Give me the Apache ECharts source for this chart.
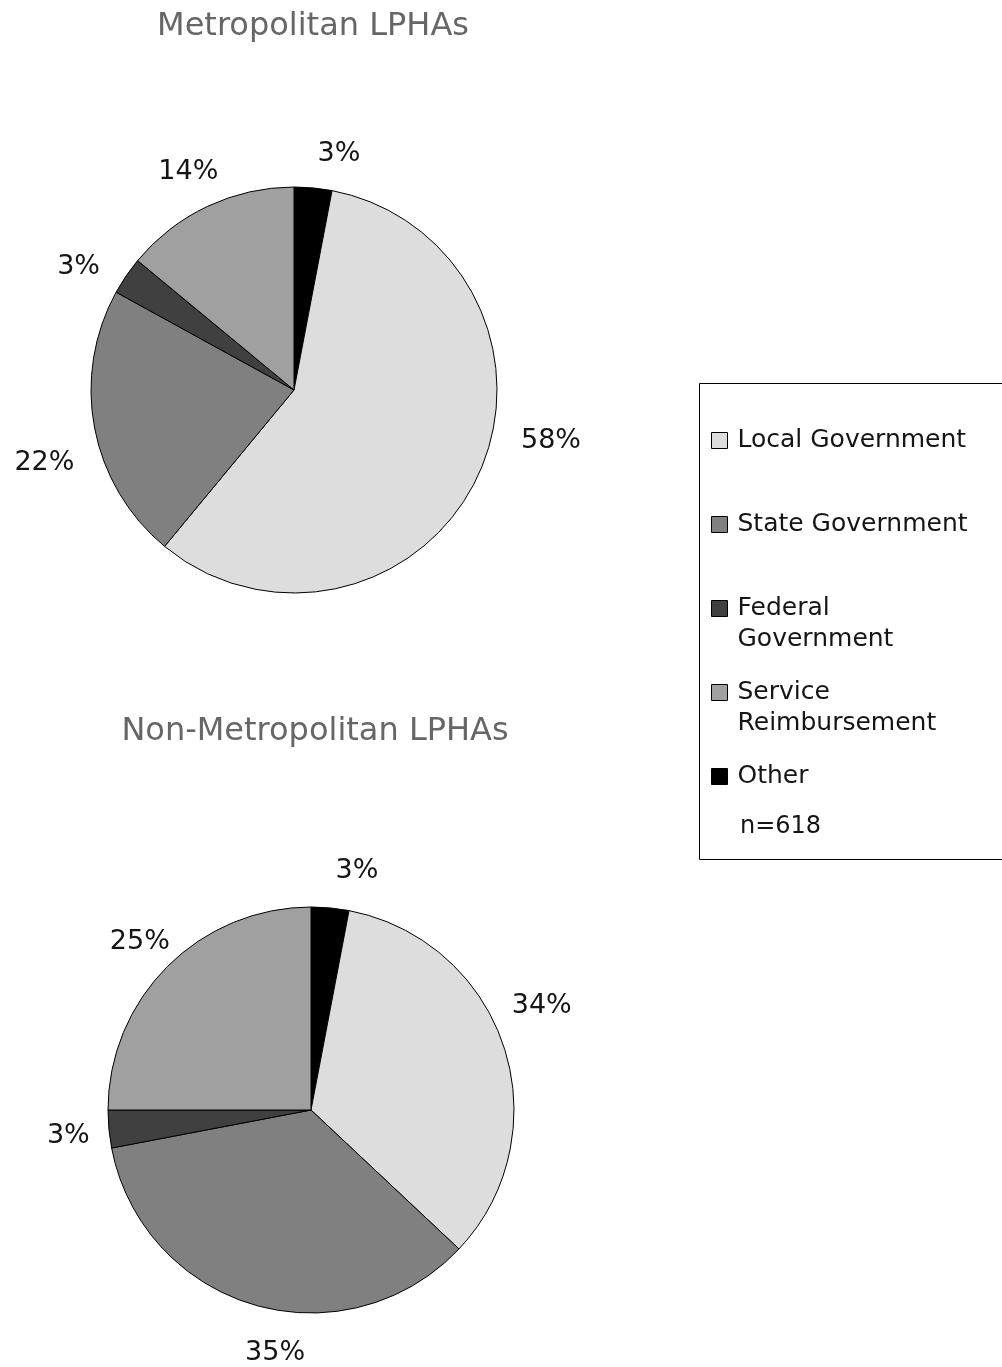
<!DOCTYPE html>
<html>
<head>
<meta charset="utf-8">
<script src="https://cdn.jsdelivr.net/npm/echarts@6/dist/echarts.min.js"></script>
<style>
  html, body { margin: 0; padding: 0; background: #fff; }
  #chart { width: 1002px; height: 1367px; }
</style>
</head>
<body>
<div id="chart"></div>
<script>
// Funding sources, in the order the slices run clockwise from 12 o'clock
const sliceNames = ['Other', 'Local Government', 'State Government', 'Federal Government', 'Service Reimbursement'];
const metroValues = [3, 58, 22, 3, 14];
const nonMetroValues = [3, 34, 35, 3, 25];

// Legend order and wrapped legend text
const legendOrder = ['Local Government', 'State Government', 'Federal Government', 'Service Reimbursement', 'Other'];
const legendText = {
  'Local Government': 'Local Government',
  'State Government': 'State Government',
  'Federal Government': 'Federal\nGovernment',
  'Service Reimbursement': 'Service\nReimbursement',
  'Other': 'Other'
};
const sampleNote = 'n=618';
const chartTitles = ['Metropolitan LPHAs', 'Non-Metropolitan LPHAs'];

const sliceColors = {
  'Other': '#000000',
  'Local Government': '#dddddd',
  'State Government': '#808080',
  'Federal Government': '#404040',
  'Service Reimbursement': '#a0a0a0'
};

const FONT = '"DejaVu Sans", sans-serif';

// Label placement around each pie: [angle clockwise from 12 o'clock, distance from centre]
const labelSpots = [
  [[10.8, 240], [101.2, 262], [253.7, 260], [299.7, 248], [334.1, 242]],
  [[10.9, 243], [65.8, 253], [188.4, 246], [264, 244], [314.5, 240]]
];
const pieCenters = [[294, 390], [311, 1110]];
const pieRadius = 203;

function toData(values) {
  return sliceNames.map((n, i) => ({
    name: n,
    value: values[i],
    itemStyle: { color: sliceColors[n] }
  }));
}

function pieSeries(values, idx) {
  const c = pieCenters[idx];
  return {
    type: 'pie',
    center: c,
    radius: pieRadius,
    startAngle: 90,
    clockwise: true,
    silent: true,
    animation: false,
    itemStyle: { borderColor: '#000', borderWidth: 1 },
    label: {
      show: true,
      position: 'outside',
      formatter: '{c}%',
      fontFamily: FONT,
      fontSize: 27,
      color: '#151515',
      overflow: 'none'
    },
    labelLine: { show: false },
    labelLayout: function (p) {
      const spot = labelSpots[idx][p.dataIndex];
      const a = spot[0] * Math.PI / 180;
      return {
        x: c[0] + spot[1] * Math.sin(a),
        y: c[1] - spot[1] * Math.cos(a),
        align: 'center',
        verticalAlign: 'middle'
      };
    },
    data: toData(values)
  };
}

const titleStyle = { fontFamily: FONT, fontSize: 32, fontWeight: 'normal', color: '#666666' };

const chart = echarts.init(document.getElementById('chart'), null, { renderer: 'canvas' });

chart.setOption({
  backgroundColor: '#ffffff',
  animation: false,
  title: [
    { text: chartTitles[0], left: 313, top: 11, textAlign: 'center', padding: 0, textStyle: titleStyle },
    { text: chartTitles[1], left: 315, top: 716, textAlign: 'center', padding: 0, textStyle: titleStyle }
  ],
  legend: {
    orient: 'vertical',
    left: 711,
    top: 394,
    padding: 0,
    itemWidth: 16,
    itemHeight: 16,
    itemGap: -9,
    icon: 'rect',
    selectedMode: false,
    data: legendOrder,
    itemStyle: { borderColor: '#000', borderWidth: 1 },
    formatter: function (name) {
      // keep the swatch on the first line of wrapped names
      const t = legendText[name];
      return t.indexOf('\n') >= 0 ? '\n' + t : '\n' + t + '\n ';
    },
    textStyle: {
      fontFamily: FONT,
      fontSize: 25,
      color: '#151515',
      lineHeight: 31,
      padding: [0, 0, 0, 5]
    }
  },
  graphic: [
    {
      type: 'rect',
      shape: { x: 699.5, y: 383.5, width: 420, height: 476 },
      style: { fill: 'none', stroke: '#000', lineWidth: 1 },
      silent: true
    },
    {
      type: 'text',
      x: 740,
      y: 827,
      style: {
        text: sampleNote,
        fontFamily: FONT,
        fontSize: 24,
        fill: '#151515',
        verticalAlign: 'middle',
        align: 'left'
      },
      silent: true
    }
  ],
  series: [pieSeries(metroValues, 0), pieSeries(nonMetroValues, 1)]
});
</script>
</body>
</html>
